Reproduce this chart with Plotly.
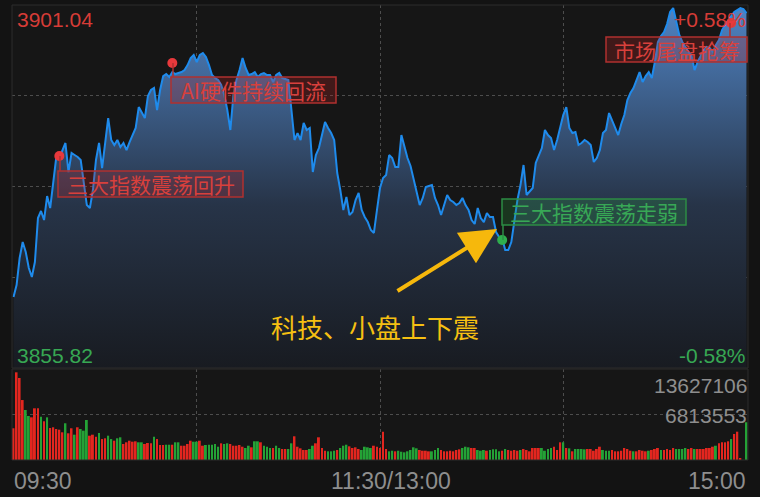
import plotly.graph_objects as go

W, H = 760, 497

# ---------------- data ----------------
price_low, price_high = 3855.82, 3901.04
pct_low, pct_high = -0.58, 0.58
vol_max = 13627106

price_am = [
    3864.66, 3866.16, 3869.52, 3871.51, 3870.27, 3868.28, 3867.15, 3869.02, 3874.50, 3875.38,
    3874.25, 3877.24, 3875.75, 3879.24, 3882.10, 3881.98, 3882.97, 3883.85, 3880.23, 3882.60,
    3882.35, 3882.10, 3881.73, 3878.61, 3876.12, 3875.75, 3877.99, 3881.73, 3883.85, 3880.73,
    3884.22, 3886.96, 3884.22, 3883.60, 3884.22, 3883.35, 3883.85, 3882.97, 3883.97, 3884.84,
    3885.72, 3888.33, 3887.71, 3886.96, 3889.70, 3890.45, 3890.70, 3887.96, 3890.45, 3892.19,
    3892.44, 3892.07, 3892.69, 3892.44, 3892.57, 3892.69, 3892.94, 3893.56, 3894.43, 3894.81,
    3893.94, 3894.81, 3895.06, 3894.56, 3893.56, 3892.32, 3891.94, 3891.69, 3891.07, 3889.83,
    3887.96, 3885.47, 3889.83, 3891.69, 3892.94, 3894.43, 3893.19, 3892.32, 3892.44, 3892.69,
    3892.07, 3892.44, 3892.57, 3892.32, 3892.32, 3891.45, 3892.32, 3892.57, 3891.94, 3891.82,
    3891.69, 3887.96, 3884.22, 3885.09, 3884.22, 3886.34, 3885.47, 3885.72, 3880.23, 3882.35,
    3883.22, 3884.84, 3886.46, 3885.72, 3885.09, 3884.22, 3880.11, 3877.99, 3875.50, 3877.12,
    3874.88, 3875.25, 3876.75, 3877.62, 3875.50, 3874.63, 3874.00, 3873.01, 3872.64, 3875.50,
    3878.24,
]
price_pm = [
    3879.49, 3879.86, 3882.35, 3881.98, 3880.86, 3880.86, 3884.84, 3883.22, 3881.98, 3880.99,
    3879.49, 3877.99, 3876.12, 3877.00, 3878.37, 3878.49, 3878.61, 3877.00, 3876.12, 3874.88,
    3876.12, 3877.37, 3876.75, 3876.50, 3876.12, 3876.37, 3877.00, 3876.12, 3875.50, 3874.25,
    3873.76, 3875.75, 3874.50, 3874.00, 3875.13, 3874.63, 3874.63, 3872.76, 3872.14, 3872.01,
    3870.52, 3870.52, 3871.51, 3874.00, 3876.75, 3878.61, 3881.11, 3877.37, 3877.74, 3878.24,
    3881.36, 3882.35, 3883.22, 3885.47, 3884.84, 3884.47, 3882.97, 3884.22, 3885.84, 3887.33,
    3888.33, 3885.72, 3885.09, 3885.22, 3883.60, 3883.85, 3884.22, 3883.97, 3883.60, 3881.48,
    3881.98, 3882.97, 3885.09, 3885.47, 3887.58, 3886.71, 3885.84, 3884.84, 3886.21, 3887.33,
    3889.20, 3890.08, 3890.70, 3891.69, 3892.69, 3891.45, 3892.19, 3892.69, 3891.94, 3893.94,
    3896.43, 3897.18, 3897.67, 3898.67, 3900.17, 3900.66, 3898.92, 3897.30, 3896.43, 3895.81,
    3895.18, 3894.81, 3892.94, 3893.94, 3894.68, 3895.43, 3895.81, 3895.68, 3895.18, 3896.05,
    3896.68, 3897.92, 3898.55, 3899.17, 3899.67, 3900.17, 3900.42, 3900.66, 3900.54, 3900.04,
]

# volume, in units of 10,000
vol_am_wan = [
    475, 1313, 1228, 898, 749, 659, 639, 774, 774, 648,
    580, 639, 479, 490, 464, 454, 415, 550, 400, 475,
    379, 490, 464, 439, 599, 364, 379, 349, 404, 314,
    325, 364, 314, 289, 325, 340, 240, 265, 289, 274,
    280, 265, 265, 240, 255, 250, 349, 314, 225, 225,
    229, 229, 229, 265, 265, 214, 214, 240, 289, 274,
    274, 289, 214, 225, 229, 229, 240, 199, 250, 240,
    250, 240, 214, 214, 225, 199, 180, 214, 190, 280,
    280, 265, 214, 199, 180, 180, 214, 180, 165, 165,
    165, 250, 355, 199, 175, 150, 150, 165, 214, 250,
    340, 180, 139, 130, 130, 139, 150, 180, 214, 229,
    205, 180, 190, 165, 150, 199, 190, 180, 214, 199,
    180,
]
vol_pm_wan = [
    424, 165, 130, 139, 130, 139, 124, 115, 130, 150,
    190, 175, 150, 139, 139, 130, 130, 150, 180, 150,
    130, 130, 139, 130, 150, 160, 180, 199, 190, 180,
    180, 150, 139, 150, 139, 150, 160, 160, 130, 139,
    165, 150, 139, 150, 139, 150, 165, 150, 130, 180,
    180, 180, 180, 139, 165, 180, 199, 150, 265, 265,
    180, 175, 130, 165, 165, 165, 160, 165, 165, 139,
    165, 199, 150, 139, 139, 150, 130, 130, 139, 180,
    165, 139, 130, 130, 150, 139, 130, 139, 150, 165,
    180, 150, 150, 165, 150, 180, 165, 165, 165, 180,
    165, 180, 165, 165, 165, 165, 180, 180, 199, 214,
    250, 265, 265, 280, 314, 389, 424, 25, 0, 565,
]
# R = up (red), G = down (green)
dir_am = ("RRRRGGRRRG" "RGRRRRRGRR" "GRGGGRRRGR" "RGGRGGRRRR" "RGGRRRGRRR"
          "GGRGGRRRRG" "GRRGGGGGRG" "GRRRRRGGRG" "GRGGGRGGRR" "GGRRRRRGGR"
          "RRRGGGRGGG" "RRRRGGGGRR" "R")
dir_pm = ("RRGGRGGGGG" "GGRRRRGGGR" "RRRRRRGGGR" "RGGGRGGGGR" "GRRRRGRRRR"
          "RRGGGGRRRG" "RGRGGGGRRR" "RRGGGRRRRR" "RRGRRRRGRR" "RGRRRRGGGG"
          "RRGRRRRRRG" "RRRRGRRRRG")

events = [  # (minute index, price, label, kind)
    (15, 3882.23, "三大指数震荡回升", "up"),
    (52, 3893.81, "AI硬件持续回流", "up"),
    (235, 3898.79, "市场尾盘抢筹", "up"),
    (160, 3871.76, "三大指数震荡走弱", "down"),
]
comment = "科技、小盘上下震"
time_labels = ["09:30", "11:30/13:00", "15:00"]

# ---------------- figure ----------------
price = price_am + price_pm
minutes = list(range(len(price)))
volume = [v * 10000 for v in vol_am_wan + vol_pm_wan]
dirs = dir_am + dir_pm
RED, GREEN = "#e3261f", "#24a236"
bar_colors = [RED if d == "R" else GREEN for d in dirs[:len(volume)]]

def px(x):
    return x / W

def py(y):
    return 1 - y / H

X0, X1 = 12, 748
P_TOP, P_BOT = 5, 368
V_TOP, V_BOT = 369, 460

fig = go.Figure()
fig.add_trace(go.Scatter(
    x=minutes, y=price, mode="lines",
    line=dict(color="#1f8bec", width=2),
    fill="tozeroy",
    fillgradient=dict(type="vertical",
                      colorscale=[[0, "#181b21"], [0.45, "#273448"], [1, "#5084c4"]],
                      start=price_low, stop=price_high),
    xaxis="x", yaxis="y", hoverinfo="skip",
))
fig.add_trace(go.Bar(
    x=minutes[:len(volume)], y=volume, marker=dict(color=bar_colors, line=dict(width=0)),
    width=0.62, xaxis="x2", yaxis="y2", hoverinfo="skip",
))
fig.add_trace(go.Scatter(
    x=[e[0] for e in events], y=[e[1] for e in events], mode="markers",
    marker=dict(size=10, color=["#e8393c" if e[3] == "up" else "#2fae4e" for e in events]),
    xaxis="x", yaxis="y", hoverinfo="skip",
))

mid = (price_low + price_high) / 2
grid = dict(showgrid=True, gridcolor="#4d4d4d", griddash="dot", gridwidth=1,
            zeroline=False, showticklabels=False, ticks="", showline=False)
fig.update_layout(
    width=W, height=H, margin=dict(l=0, r=0, t=0, b=0),
    paper_bgcolor="#131313", plot_bgcolor="#161616", showlegend=False,
    xaxis=dict(domain=[px(X0), px(X1)], range=[-0.5, 240.5], tickvals=[60, 120, 180],
               anchor="y", **grid),
    yaxis=dict(domain=[py(P_BOT), py(P_TOP)], range=[price_low, price_high],
               tickvals=[(price_low + mid) / 2, mid, (mid + price_high) / 2],
               anchor="x", **grid),
    xaxis2=dict(domain=[px(X0), px(X1)], range=[-0.5, 240.5], tickvals=[60, 120, 180],
                anchor="y2", **grid),
    yaxis2=dict(domain=[py(V_BOT), py(V_TOP)], range=[0, vol_max],
                tickvals=[vol_max / 2], anchor="x2", **grid),
)

shapes = []
for (t, b) in [(P_TOP, P_BOT), (V_TOP, V_BOT)]:
    shapes.append(dict(type="rect", xref="paper", yref="paper",
                       x0=px(X0), x1=px(X1), y0=py(b), y1=py(t),
                       line=dict(color="#2c2c2c", width=1), layer="above"))

# callout boxes (pixel geometry)
boxes = [
    (58, 171, 243, 197, 60, 156),
    (171, 77, 336, 103, 173, 63),
    (606, 37, 747, 62, 730, 23),
    (502, 199, 686, 225, 503, 240),
]
annotations = []
NUMF = "Liberation Sans, Arial, sans-serif"
CJKF = "Noto Sans CJK SC, sans-serif"
for (e, (bx0, by0, bx1, by1, sx, sy)) in zip(events, boxes):
    up = e[3] == "up"
    edge = "#b0302f" if up else "#2d8c44"
    fillc = "rgba(190,35,35,0.25)" if up else "rgba(40,150,60,0.25)"
    txtc = "#d8403c" if up else "#38a856"
    stem_end = by0 if up else by1
    shapes.append(dict(type="line", xref="paper", yref="paper",
                       x0=px(sx), x1=px(sx), y0=py(sy), y1=py(stem_end),
                       line=dict(color=edge, width=1.5), layer="above"))
    shapes.append(dict(type="rect", xref="paper", yref="paper",
                       x0=px(bx0), x1=px(bx1), y0=py(by1), y1=py(by0),
                       fillcolor=fillc, line=dict(color=edge, width=1.5), layer="above"))
    annotations.append(dict(xref="paper", yref="paper", x=px((bx0 + bx1) / 2),
                            y=py((by0 + by1) / 2), text=e[2], showarrow=False,
                            xanchor="center", yanchor="middle",
                            font=dict(family=CJKF, size=21, color=txtc)))

RED_T, GREEN_T, GREY_T = "#d63c37", "#37a853", "#8e8e8e"
def label(x, y, text, color, anchor, size=21, family=NUMF):
    annotations.append(dict(xref="paper", yref="paper", x=px(x), y=py(y), text=text,
                            showarrow=False, xanchor=anchor, yanchor="middle",
                            font=dict(family=family, size=size, color=color)))

label(15, 19, f"{price_high:.2f}", RED_T, "left")
label(748, 19, f"+{pct_high:.2f}%", RED_T, "right")
label(15, 355, f"{price_low:.2f}", GREEN_T, "left")
label(748, 355, f"{pct_low:.2f}%", GREEN_T, "right")
label(749, 385, f"{vol_max}", GREY_T, "right")
label(749, 415, f"{vol_max // 2}", GREY_T, "right")
label(12, 481, time_labels[0], GREY_T, "left", size=23)
label(391, 481, time_labels[1], GREY_T, "center", size=23)
label(748, 481, time_labels[2], GREY_T, "right", size=23)
label(375, 326, comment, "#f6c012", "center", size=26, family=CJKF)

# yellow arrow
annotations.append(dict(xref="paper", yref="paper", x=px(497), y=py(229),
                        axref="pixel", ayref="pixel", ax=-101, ay=63,
                        text="", showarrow=True, arrowhead=2, arrowsize=1.8,
                        arrowwidth=4, arrowcolor="#f6b80c"))

fig.update_layout(shapes=shapes, annotations=annotations)
fig.write_html("out.html", config={"displayModeBar": False},
               post_script="document.body.style.margin='0';document.body.style.overflow='hidden';")
